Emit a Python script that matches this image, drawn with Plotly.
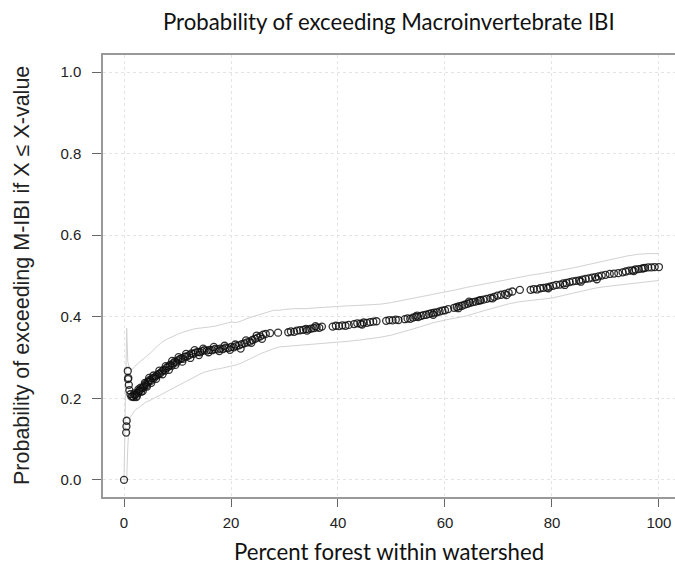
import plotly.graph_objects as go

# Observed points: percent forest vs probability of exceeding M-IBI
forest_pct = [
    0.0, 0.4, 0.45, 0.5, 0.7, 0.75, 0.8, 0.9, 1.0, 1.2, 1.4, 1.6,
    1.8, 2.0, 2.2, 2.4, 2.6, 2.8, 3.0, 3.2, 3.4, 3.6, 3.8, 4.0, 4.2, 4.4, 4.6, 4.8, 5.0,
    5.3, 5.6, 5.9, 6.2, 6.5, 6.8, 7.1, 7.4, 7.7, 8.0, 8.3, 8.6, 8.9, 9.2, 9.5, 9.8,
    10.1, 10.4, 10.7, 11.0, 11.4, 11.8, 12.2, 12.6, 13.0, 13.4, 13.8, 14.2, 14.6, 15.0,
    15.5, 16.0, 16.5, 17.0, 17.5, 18.0, 18.5, 19.0, 19.5, 20.0, 20.5, 21.0, 21.5, 22.0,
    22.5, 23.0, 23.5, 24.0, 24.5, 25.0, 25.5, 26.0, 26.5, 27.3, 28.8,
    30.7, 31.2, 31.8, 32.3, 32.9, 33.5, 34.0, 34.5, 35.0, 35.5, 36.0, 36.5, 37.0,
    39.0, 39.6, 40.2, 40.8, 41.4, 42.0, 43.0, 43.6, 44.2, 44.8, 45.4, 46.0, 46.6, 47.2,
    49.0, 49.6, 50.2, 50.8, 51.3, 52.5, 53.0, 53.5, 54.0, 54.5, 55.0, 55.5, 56.0, 56.5,
    57.0, 57.5, 58.0, 58.5, 59.0, 59.5, 60.0, 60.6, 61.7, 62.2, 62.7, 63.2, 63.7, 64.2,
    64.7, 65.2, 65.7, 66.2, 66.7, 67.2, 67.8, 68.5, 69.2, 69.8, 70.5, 71.2, 71.9, 72.6,
    74.0, 76.0, 76.6, 77.2, 77.8, 78.4, 79.0, 79.6, 80.2, 80.8, 81.5, 82.1, 82.7, 83.3,
    83.9, 84.5, 85.1, 85.7, 86.3, 86.9, 87.5, 88.1, 88.7, 89.3, 90.0, 90.8, 91.6, 92.4,
    93.2, 93.8, 94.4, 95.0, 95.6, 96.2, 96.8, 97.4, 98.0, 98.6, 99.2, 100.0,
    # additional points in the dense low-forest cluster
    1.9, 2.3, 2.7, 3.1, 3.5, 3.9, 4.3, 4.7, 5.1, 5.5, 6.0, 6.6, 7.2, 7.8, 8.4, 9.0, 9.6,
    10.2, 10.9, 11.6, 12.4, 13.2, 14.0, 14.8, 15.8, 16.8, 17.8, 18.8, 19.8, 20.8, 21.8,
    22.8, 23.8, 24.8, 25.8, 34.2, 35.8, 44.5, 54.8, 57.8, 62.5, 64.5, 66.5, 68.9, 71.5,
    79.3, 82.4, 85.4, 88.4, 95.3, 97.1,
]
prob_exceed = [
    0.0, 0.116, 0.131, 0.145, 0.267, 0.247, 0.25, 0.233, 0.22, 0.21, 0.204, 0.205,
    0.203, 0.208, 0.21, 0.206, 0.214, 0.218, 0.22, 0.216, 0.225, 0.227, 0.23, 0.235, 0.232, 0.24, 0.241, 0.245, 0.243,
    0.249, 0.25, 0.254, 0.257, 0.26, 0.262, 0.266, 0.27, 0.268, 0.275, 0.278, 0.282, 0.28, 0.286, 0.29, 0.288,
    0.293, 0.296, 0.298, 0.297, 0.302, 0.303, 0.306, 0.31, 0.309, 0.312, 0.314, 0.313, 0.316, 0.318,
    0.317, 0.319, 0.318, 0.321, 0.32, 0.322, 0.321, 0.324, 0.323, 0.326, 0.325, 0.328, 0.33, 0.333,
    0.335, 0.337, 0.339, 0.343, 0.346, 0.349, 0.352, 0.356, 0.358, 0.36, 0.361,
    0.362, 0.364, 0.363, 0.366, 0.367, 0.368, 0.37, 0.369, 0.371, 0.372, 0.374, 0.373, 0.376,
    0.376, 0.378, 0.377, 0.379, 0.378, 0.38, 0.382, 0.384, 0.383, 0.386, 0.385, 0.387, 0.388, 0.389,
    0.39, 0.392, 0.391, 0.393, 0.392, 0.394, 0.396, 0.395, 0.398, 0.4, 0.399, 0.402, 0.404, 0.405,
    0.407, 0.409, 0.41, 0.411, 0.413, 0.415, 0.416, 0.419, 0.422, 0.424, 0.426, 0.427, 0.43, 0.432,
    0.434, 0.436, 0.437, 0.439, 0.441, 0.442, 0.444, 0.446, 0.449, 0.452, 0.454, 0.456, 0.459, 0.462,
    0.466, 0.466, 0.468, 0.467, 0.47, 0.471, 0.472, 0.474, 0.476, 0.478, 0.479, 0.482, 0.483, 0.485,
    0.487, 0.488, 0.489, 0.491, 0.493, 0.494, 0.496, 0.497, 0.499, 0.501, 0.503, 0.505, 0.506, 0.507,
    0.509, 0.511, 0.513, 0.514, 0.516, 0.517, 0.518, 0.52, 0.521, 0.521, 0.522, 0.522,
    # additional points in the dense low-forest cluster
    0.212, 0.203, 0.222, 0.226, 0.218, 0.238, 0.229, 0.25, 0.238, 0.256, 0.248, 0.268, 0.259, 0.279,
    0.27, 0.292, 0.282, 0.301, 0.29, 0.309, 0.299, 0.318, 0.306, 0.322, 0.313, 0.326, 0.316, 0.329,
    0.319, 0.332, 0.322, 0.342, 0.336, 0.354, 0.346, 0.366, 0.377, 0.381, 0.403, 0.405, 0.421, 0.437,
    0.44, 0.445, 0.453, 0.47, 0.478, 0.486, 0.492, 0.512, 0.519,
]

# Confidence band
ci_x = [0, 0.3, 0.5, 0.7, 1.0, 1.5, 2, 3, 4, 5, 6, 7, 8, 9, 10, 11, 12, 13, 14, 15, 16, 17, 18, 19, 20,
        21, 22, 23, 24, 25, 26, 27, 28, 29, 30, 32, 34, 36, 38, 40, 42, 44, 46, 48, 50, 52, 54, 56, 58,
        60, 62, 64, 66, 68, 70, 72, 74, 76, 78, 80, 82, 84, 86, 88, 90, 92, 94, 96, 98, 100]
ci_upper = [0.0, 0.30, 0.372, 0.29, 0.275, 0.27, 0.278, 0.29, 0.30, 0.312, 0.325, 0.337, 0.345, 0.352,
            0.357, 0.362, 0.366, 0.37, 0.372, 0.373, 0.375, 0.377, 0.38, 0.384, 0.387, 0.386, 0.39, 0.396,
            0.4, 0.404, 0.408, 0.413, 0.416, 0.416, 0.418, 0.42, 0.42, 0.422, 0.424, 0.426, 0.427, 0.428,
            0.43, 0.431, 0.435, 0.44, 0.445, 0.45, 0.455, 0.46, 0.466, 0.472, 0.477, 0.482, 0.488, 0.493,
            0.497, 0.502, 0.506, 0.51, 0.515, 0.52, 0.526, 0.532, 0.538, 0.544, 0.549, 0.553, 0.555, 0.555]
ci_lower = [0.0, 0.0, 0.0, 0.08, 0.15, 0.16, 0.17, 0.18, 0.19, 0.196, 0.203, 0.21, 0.216, 0.222, 0.23,
            0.238, 0.245, 0.252, 0.258, 0.264, 0.268, 0.271, 0.273, 0.276, 0.279, 0.282, 0.287, 0.294, 0.3,
            0.306, 0.312, 0.318, 0.322, 0.326, 0.327, 0.33, 0.332, 0.334, 0.336, 0.338, 0.34, 0.343, 0.346,
            0.35, 0.355, 0.362, 0.37, 0.378, 0.386, 0.392, 0.397, 0.402, 0.41, 0.418, 0.425, 0.432, 0.437,
            0.44, 0.443, 0.446, 0.452, 0.458, 0.464, 0.47, 0.474, 0.477, 0.48, 0.484, 0.487, 0.489]

x_ticks = [0, 20, 40, 60, 80, 100]
y_ticks = [0.0, 0.2, 0.4, 0.6, 0.8, 1.0]
y_tick_text = ["0.0", "0.2", "0.4", "0.6", "0.8", "1.0"]

fig = go.Figure()
band_line = dict(color="#d2d2d2", width=1)
fig.add_trace(go.Scatter(x=ci_x, y=ci_upper, mode="lines", line=band_line, hoverinfo="skip"))
fig.add_trace(go.Scatter(x=ci_x, y=ci_lower, mode="lines", line=band_line, hoverinfo="skip"))
fig.add_trace(go.Scatter(
    x=forest_pct, y=prob_exceed, mode="markers",
    marker=dict(symbol="circle-open", size=7, color="rgba(15,15,15,0.85)",
                line=dict(width=1.3, color="rgba(15,15,15,0.85)")),
))

grid = dict(showgrid=True, gridcolor="#e4e4e4", griddash="dot", gridwidth=1, zeroline=False)
tick_font = dict(family="Liberation Sans, Arial", size=15, color="#222")
fig.update_xaxes(
    range=[-3.93, 103.0], tickvals=x_ticks, ticks="outside", ticklen=8, tickcolor="#666",
    showline=True, linecolor="#999", linewidth=1.5, mirror=True, ticklabelstandoff=3,
    tickfont=tick_font, **grid,
)
fig.update_yaxes(
    range=[-0.042, 1.042], tickvals=y_ticks, ticktext=y_tick_text, ticks="outside", ticklen=9,
    tickcolor="#666", showline=True, linecolor="#999", linewidth=1.5, mirror=False,
    ticklabelstandoff=8, tickfont=tick_font, **grid,
)

title_font = dict(family="Lato, Open Sans, sans-serif", size=22.2, color="#111")
fig.update_layout(
    width=675, height=568,
    margin=dict(l=103, r=0, t=55, b=71),
    plot_bgcolor="white", paper_bgcolor="white",
    showlegend=False,
    annotations=[
        dict(text="Probability of exceeding Macroinvertebrate IBI", xref="paper", yref="paper",
             x=0.5, y=1, yshift=34, showarrow=False, xanchor="center", yanchor="middle",
             font=title_font),
        dict(text="Percent forest within watershed", xref="paper", yref="paper",
             x=0.5, y=0, yshift=-54, showarrow=False, xanchor="center", yanchor="middle",
             font=title_font),
        dict(text="Probability of exceeding M-IBI if X \u2264 X-value", xref="paper", yref="paper",
             x=0, y=0.5, xshift=-81, showarrow=False, xanchor="center", yanchor="middle",
             textangle=-90, font=dict(family="Liberation Sans, Arial", size=21.5, color="#222")),
    ],
)

fig.write_html("out.html", config={"displayModeBar": False},
               post_script="document.body.style.margin='0px';")
